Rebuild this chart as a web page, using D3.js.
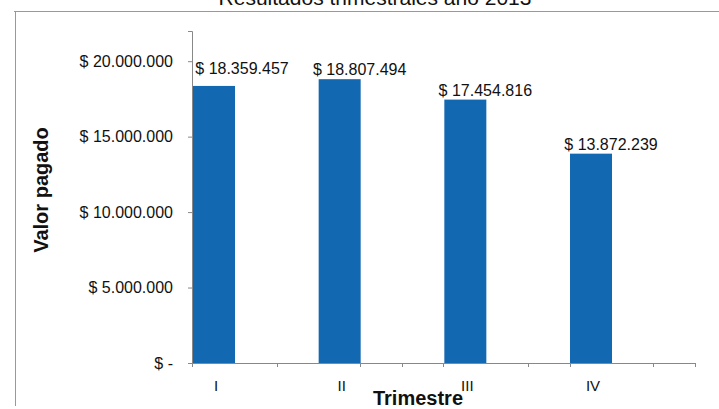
<!DOCTYPE html>
<html><head><meta charset="utf-8">
<script src="https://cdn.jsdelivr.net/npm/d3@7"></script>
<style>body{margin:0;background:#fff}svg{display:block;font-family:"Liberation Sans",Arial,sans-serif}</style>
</head><body><svg id="c" width="719" height="409"></svg>
<script>
const categories = ["I","II","III","IV"];
const values = [18359457, 18807494, 17454816, 13872239];
const yTicks = [0, 5000000, 10000000, 15000000, 20000000];
const title = "Resultados trimestrales año 2013";

const svg = d3.select("#c");
const fmt = v => v === 0 ? "$ -" : "$ " + d3.format(",")(v).replace(/,/g, ".");

const y = d3.scaleLinear().domain([0, 22000000]).range([363, 31]);
const x = d3.scalePoint().domain(categories).range([214, 591]);
const barW = 42;

// outer frame
svg.append("path").attr("d","M14,11.5H719M15.5,11V406").attr("stroke","#999").attr("fill","none");

// title (cut off at top, as in the reference)
svg.append("text").attr("x",375).attr("y",5).attr("text-anchor","middle")
  .attr("font-size",21).attr("fill","#111").text(title);

// y axis
const ya = svg.append("g").attr("transform","translate(192,0)")
  .call(d3.axisLeft(y).tickValues(yTicks).tickFormat(fmt).tickSize(4).tickPadding(15));
ya.select(".domain").attr("stroke","#888");
ya.selectAll(".tick line").attr("stroke","#888");
ya.selectAll("text").attr("font-size",16).attr("fill","#111").attr("font-family","Liberation Sans, Arial, sans-serif");

// x axis line
svg.append("line").attr("x1",192).attr("x2",695).attr("y1",363.5).attr("y2",363.5).attr("stroke","#888");
const xt = [192,277,360,402,443,528,570,653,695];
svg.selectAll(".xt").data(xt).join("line").attr("x1",d=>d+0.5).attr("x2",d=>d+0.5)
  .attr("y1",363).attr("y2",367).attr("stroke","#888");

// bars
svg.selectAll(".bar").data(values).join("rect")
  .attr("x",(d,i)=>x(categories[i]) - barW/2)
  .attr("y",d=>y(d)).attr("width",barW).attr("height",d=>y(0)-y(d))
  .attr("fill","#1268b1");

// value labels
svg.selectAll(".lbl").data(values).join("text")
  .attr("x",(d,i)=>x(categories[i]) + (i===0 ? 28 : 20)).attr("y",(d,i)=> i===0 ? y(d)-12 : y(d)-4)
  .attr("text-anchor","middle").attr("font-size",16).attr("fill","#111")
  .text(fmt);

// category labels
svg.selectAll(".cat").data(categories).join("text")
  .attr("x",d=>x(d)+2).attr("y",391).attr("text-anchor","middle")
  .attr("font-size",15).attr("fill","#111").text(d=>d);

// axis titles
svg.append("text").attr("x",418).attr("y",405).attr("text-anchor","middle")
  .attr("font-size",20).attr("font-weight","bold").attr("fill","#111").text("Trimestre");
svg.append("text").attr("transform","translate(48,190) rotate(-90)").attr("text-anchor","middle")
  .attr("font-size",20).attr("font-weight","bold").attr("fill","#111").text("Valor pagado");
</script></body></html>
